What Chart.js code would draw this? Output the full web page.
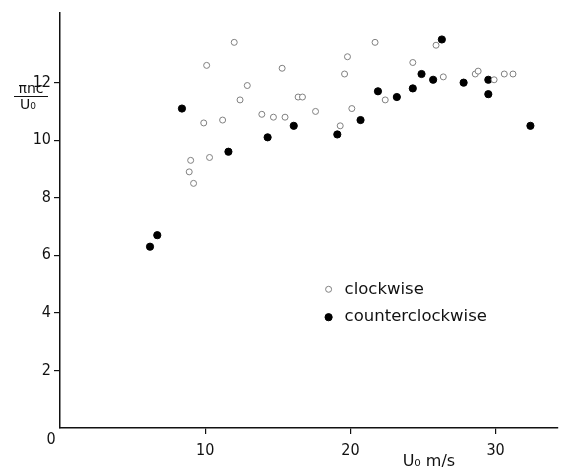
<!DOCTYPE html>
<html lang="en">
<head>
  <meta charset="UTF-8"/>
  <title>πnc/U₀ vs U₀</title>
  <script src="https://cdn.jsdelivr.net/npm/chart.js@4"></script>
  <style>
    * { margin: 0; padding: 0; box-sizing: border-box; }
    body { background: #fff; width: 563px; height: 476px; overflow: hidden; }
    canvas { display: block; }
  </style>
</head>
<body>
  <canvas id="rpmChart" width="563" height="476"></canvas>

  <script>
    // clockwise (open circles)
    const cwU     = [12.0, 10.1, 15.3, 12.9, 12.4, 16.4, 16.7, 13.9, 14.7, 15.5, 11.2, 9.9, 10.3, 9.0, 8.9, 9.2,
                     17.6, 21.7, 19.8, 19.6, 20.1, 19.3, 22.4, 24.3, 25.9, 26.4, 28.6, 28.8, 29.9, 30.6, 31.2];
    const cwRatio = [13.4, 12.6, 12.5, 11.9, 11.4, 11.5, 11.5, 10.9, 10.8, 10.8, 10.7, 10.6, 9.4, 9.3, 8.9, 8.5,
                     11.0, 13.4, 12.9, 12.3, 11.1, 10.5, 11.4, 12.7, 13.3, 12.2, 12.3, 12.4, 12.1, 12.3, 12.3];

    // counterclockwise (filled dots)
    const ccwU     = [6.2, 6.7, 8.4, 11.6, 14.3, 16.1, 19.1, 20.7, 21.9, 23.2, 24.3, 24.9, 25.7, 26.3, 27.8, 29.5, 29.5, 32.4];
    const ccwRatio = [6.3, 6.7, 11.1, 9.6, 10.1, 10.5, 10.2, 10.7, 11.7, 11.5, 11.8, 12.3, 12.1, 13.5, 12.0, 12.1, 11.6, 10.5];

    const xTicks = [10, 20, 30];
    const yTicks = [2, 4, 6, 8, 10, 12];
    const seriesNames = ['clockwise', 'counterclockwise'];

    const toPoints = (xs, ys) => xs.map((x, i) => ({ x: x, y: ys[i] }));

    // extra text: origin 0, axis titles, legend
    const annotations = {
      id: 'annotations',
      afterDraw(chart) {
        const { ctx, scales } = chart;
        const x0 = scales.x.getPixelForValue(0);
        const y0 = scales.y.getPixelForValue(0);
        ctx.save();
        ctx.fillStyle = '#111';
        ctx.textBaseline = 'middle';

        ctx.font = '16px "DejaVu Sans Condensed", "DejaVu Sans", sans-serif';
        ctx.textAlign = 'center';
        ctx.fillText('0', x0 - 9, y0 + 12);

        // x title
        ctx.font = '16px "DejaVu Sans", sans-serif';
        ctx.textAlign = 'left';
        ctx.fillText('U₀ m/s', scales.x.getPixelForValue(23.6), 462);

        // y title as a fraction
        ctx.font = '14px "DejaVu Sans", sans-serif';
        ctx.textAlign = 'center';
        ctx.fillText('πnc', 31, 89);
        ctx.strokeStyle = '#111';
        ctx.lineWidth = 1.2;
        ctx.beginPath();
        ctx.moveTo(14, 96.5);
        ctx.lineTo(48, 96.5);
        ctx.stroke();
        ctx.fillText('U₀', 28, 105);

        // legend
        ctx.font = '16.5px "DejaVu Sans", sans-serif';
        ctx.textAlign = 'left';
        chart.data.datasets.forEach((ds, i) => {
          const mx = scales.x.getPixelForValue(18.5);
          const my = scales.y.getPixelForValue(4.82 - i * 0.97);
          ctx.beginPath();
          ctx.arc(mx, my, ds.pointRadius, 0, Math.PI * 2);
          ctx.fillStyle = ds.pointBackgroundColor;
          ctx.fill();
          ctx.lineWidth = ds.pointBorderWidth;
          ctx.strokeStyle = ds.pointBorderColor;
          ctx.stroke();
          ctx.fillStyle = '#111';
          ctx.fillText(ds.label, mx + 16, my);
        });
        ctx.restore();
      }
    };

    const axisStyle = {
      grid: { drawOnChartArea: false, drawTicks: true, tickLength: 6, color: '#111', lineWidth: 1.2 },
      border: { display: true, color: '#111', width: 1.5 }
    };

    new Chart(document.getElementById('rpmChart'), {
      type: 'scatter',
      data: {
        datasets: [
          {
            label: seriesNames[0],
            data: toPoints(cwU, cwRatio),
            pointRadius: 3,
            pointBackgroundColor: '#ffffff',
            pointBorderColor: '#808080',
            pointBorderWidth: 1
          },
          {
            label: seriesNames[1],
            data: toPoints(ccwU, ccwRatio),
            pointRadius: 3.6,
            pointBackgroundColor: '#000000',
            pointBorderColor: '#000000',
            pointBorderWidth: 1
          }
        ]
      },
      options: {
        responsive: false,
        animation: false,
        devicePixelRatio: 1,
        layout: { padding: { top: 13, right: 0, left: 0, bottom: 0 } },
        plugins: { legend: { display: false }, tooltip: { enabled: false } },
        scales: {
          x: {
            type: 'linear', min: 0, max: 34.3,
            ...axisStyle,
            afterBuildTicks: s => { s.ticks = xTicks.map(v => ({ value: v })); },
            afterFit: s => { s.height = 48; },
            ticks: { padding: 7, color: '#111', font: { family: '"DejaVu Sans Condensed", "DejaVu Sans", sans-serif', size: 16 } }
          },
          y: {
            type: 'linear', min: 0, max: 14.42,
            ...axisStyle,
            afterBuildTicks: s => { s.ticks = yTicks.map(v => ({ value: v })); },
            afterFit: s => { s.width = 60; },
            ticks: { padding: 3, color: '#111', font: { family: '"DejaVu Sans Condensed", "DejaVu Sans", sans-serif', size: 16 } }
          }
        }
      },
      plugins: [annotations]
    });
  </script>
</body>
</html>
